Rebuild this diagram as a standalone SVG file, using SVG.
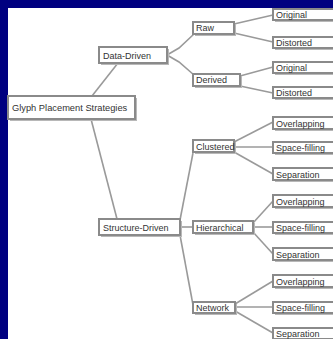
<svg xmlns="http://www.w3.org/2000/svg" width="333" height="339" viewBox="0 0 333 339">
<style>
.bx{fill:#ffffff;stroke:#8a8a8a;stroke-width:2}
.sh{fill:#b8b8b8}
.t{font-family:"Liberation Sans",Arial,sans-serif;font-size:9px;fill:#333333}
.c{fill:none;stroke:#9a9a9a;stroke-width:1.6}
</style>
<rect x="0" y="0" width="333" height="339" fill="#000080"/>
<rect x="8" y="8" width="325" height="331" fill="#ffffff"/>
<g id="connectors">
<path class="c" d="M92,96 L118,63"/>
<path class="c" d="M91,119 L117,219"/>
<path class="c" d="M167,55 L179,48 L194,34"/>
<path class="c" d="M167,55 L179,62 L194,75"/>
<path class="c" d="M234,24 L273,15"/>
<path class="c" d="M234,33 L273,42"/>
<path class="c" d="M240,76 L273,67"/>
<path class="c" d="M240,86 L273,93"/>
<path class="c" d="M180,220 L193,153"/>
<path class="c" d="M180,227 L193,227"/>
<path class="c" d="M180,235 L193,305"/>
<path class="c" d="M234,142 L273,122"/>
<path class="c" d="M234,147 L273,147"/>
<path class="c" d="M234,152 L273,174"/>
<path class="c" d="M253,223 L273,201"/>
<path class="c" d="M253,227 L273,227"/>
<path class="c" d="M253,232 L273,254"/>
<path class="c" d="M235,304 L273,281"/>
<path class="c" d="M235,307 L273,307"/>
<path class="c" d="M235,311 L273,333"/>
</g>
<g id="root"><rect class="sh" x="10" y="98" width="127" height="23"/><rect class="bx" x="8" y="96" width="127" height="23"/><text class="t" x="12" y="111" style="font-size:9.3px">Glyph Placement Strategies</text></g>
<g id="data-driven"><rect class="sh" x="101" y="49" width="68" height="16"/><rect class="bx" x="99" y="47" width="68" height="16"/><text class="t" x="103" y="58.5">Data-Driven</text></g>
<g id="structure-driven"><rect class="sh" x="101" y="221" width="81" height="16"/><rect class="bx" x="99" y="219" width="81" height="16"/><text class="t" x="103" y="230.5">Structure-Driven</text></g>
<g id="raw"><rect class="sh" x="195" y="24" width="41" height="12"/><rect class="bx" x="193" y="22" width="41" height="12"/><text class="t" x="196" y="31">Raw</text></g>
<g id="derived"><rect class="sh" x="195" y="76" width="47" height="12"/><rect class="bx" x="193" y="74" width="47" height="12"/><text class="t" x="196" y="83">Derived</text></g>
<g id="clustered"><rect class="sh" x="195" y="142" width="41" height="12"/><rect class="bx" x="193" y="140" width="41" height="12"/><text class="t" x="196" y="149.5">Clustered</text></g>
<g id="hierarchical"><rect class="sh" x="195" y="223" width="60" height="12"/><rect class="bx" x="193" y="221" width="60" height="12"/><text class="t" x="196" y="230.5">Hierarchical</text></g>
<g id="network"><rect class="sh" x="195" y="304" width="42" height="11"/><rect class="bx" x="193" y="302" width="42" height="11"/><text class="t" x="196" y="311">Network</text></g>
<g id="raw-original"><rect class="sh" x="275" y="11" width="70" height="11"/><rect class="bx" x="273" y="9" width="70" height="11"/><text class="t" x="276" y="18">Original</text></g>
<g id="raw-distorted"><rect class="sh" x="275" y="39" width="70" height="11"/><rect class="bx" x="273" y="37" width="70" height="11"/><text class="t" x="276" y="46">Distorted</text></g>
<g id="derived-original"><rect class="sh" x="275" y="64" width="70" height="11"/><rect class="bx" x="273" y="62" width="70" height="11"/><text class="t" x="276" y="71">Original</text></g>
<g id="derived-distorted"><rect class="sh" x="275" y="89" width="70" height="11"/><rect class="bx" x="273" y="87" width="70" height="11"/><text class="t" x="276" y="96">Distorted</text></g>
<g id="clustered-overlapping"><rect class="sh" x="275" y="119" width="70" height="12"/><rect class="bx" x="273" y="117" width="70" height="12"/><text class="t" x="276" y="126.5">Overlapping</text></g>
<g id="clustered-spacefilling"><rect class="sh" x="275" y="144" width="70" height="11"/><rect class="bx" x="273" y="142" width="70" height="11"/><text class="t" x="276" y="151">Space-filling</text></g>
<g id="clustered-separation"><rect class="sh" x="275" y="170" width="70" height="12"/><rect class="bx" x="273" y="168" width="70" height="12"/><text class="t" x="276" y="177.5">Separation</text></g>
<g id="hierarchical-overlapping"><rect class="sh" x="275" y="197" width="70" height="12"/><rect class="bx" x="273" y="195" width="70" height="12"/><text class="t" x="276" y="204.5">Overlapping</text></g>
<g id="hierarchical-spacefilling"><rect class="sh" x="275" y="224" width="70" height="11"/><rect class="bx" x="273" y="222" width="70" height="11"/><text class="t" x="276" y="231">Space-filling</text></g>
<g id="hierarchical-separation"><rect class="sh" x="275" y="250" width="70" height="12"/><rect class="bx" x="273" y="248" width="70" height="12"/><text class="t" x="276" y="257.5">Separation</text></g>
<g id="network-overlapping"><rect class="sh" x="275" y="277" width="70" height="12"/><rect class="bx" x="273" y="275" width="70" height="12"/><text class="t" x="276" y="284.5">Overlapping</text></g>
<g id="network-spacefilling"><rect class="sh" x="275" y="304" width="70" height="11"/><rect class="bx" x="273" y="302" width="70" height="11"/><text class="t" x="276" y="311">Space-filling</text></g>
<g id="network-separation"><rect class="sh" x="275" y="330" width="70" height="11"/><rect class="bx" x="273" y="328" width="70" height="11"/><text class="t" x="276" y="337">Separation</text></g>
</svg>
